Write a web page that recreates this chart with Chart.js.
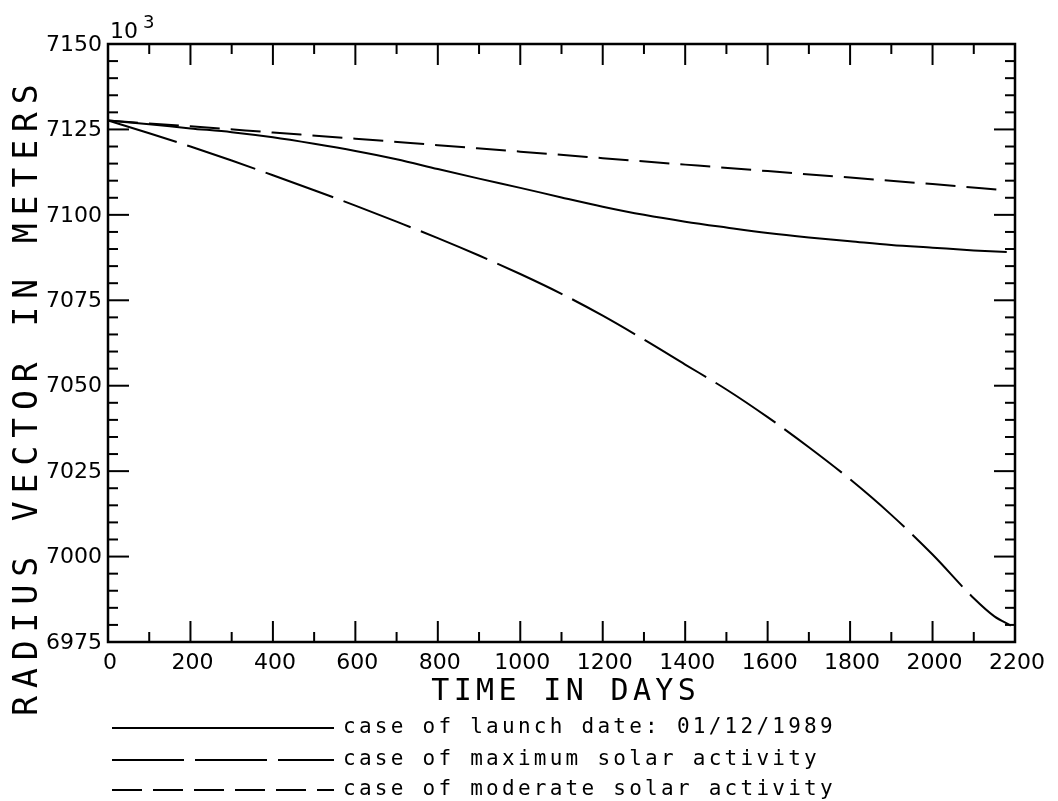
<!DOCTYPE html>
<html>
<head>
<meta charset="utf-8">
<script src="https://cdn.jsdelivr.net/npm/chart.js@4/dist/chart.umd.min.js"></script>
<style>
  body { margin: 0; background: #fff; }
  canvas { display: block; }
</style>
</head>
<body>
<canvas id="myChart" width="1058" height="801"></canvas>
<script>
// values (radius in km, i.e. x 10^3 m)
const launchDays = [0, 100, 200, 300, 400, 500, 600, 700, 800, 900, 1000, 1100, 1200, 1300, 1400, 1500, 1600, 1700, 1800, 1900, 2000, 2100, 2180];
const launchRadius = [7127.6, 7126.5, 7125.3, 7124.2, 7122.7, 7120.8, 7118.7, 7116.3, 7113.4, 7110.6, 7107.9, 7105.1, 7102.4, 7100.0, 7098.0, 7096.3, 7094.7, 7093.4, 7092.3, 7091.2, 7090.4, 7089.6, 7089.1];

const maxDays = [0, 100, 200, 300, 400, 500, 600, 700, 800, 900, 1000, 1100, 1200, 1300, 1400, 1500, 1600, 1700, 1800, 1900, 2000, 2100, 2150, 2190];
const maxRadius = [7127.6, 7123.9, 7120.0, 7115.9, 7111.6, 7107.2, 7102.7, 7098.0, 7093.2, 7088.1, 7082.7, 7076.9, 7070.5, 7063.5, 7056.2, 7048.9, 7040.8, 7032.0, 7022.6, 7012.2, 7000.6, 6987.8, 6982.5, 6979.8];

const modDays = [0, 200, 400, 600, 800, 1000, 1200, 1400, 1600, 1800, 2000, 2180];
const modRadius = [7127.6, 7125.9, 7124.1, 7122.3, 7120.4, 7118.5, 7116.6, 7114.7, 7112.8, 7110.9, 7109.0, 7107.2];

const seriesLabels = ['case of launch date: 01/12/1989', 'case of maximum solar activity', 'case of moderate solar activity'];

const xTickLabels = ['0', '200', '400', '600', '800', '1000', '1200', '1400', '1600', '1800', '2000', '2200'];
const yTickLabels = ['6975', '7000', '7025', '7050', '7075', '7100', '7125', '7150'];

const xTitle = 'TIME IN DAYS';
const yTitle = 'RADIUS VECTOR IN METERS';

let toPoints = (xs, ys) => xs.map((x, i) => ({ x: x, y: ys[i] }));

// draw text one char at a time with a fixed pitch (plotter look)
function spaced(c, text, x, y, pitch) {
  for (let i = 0; i < text.length; i++) {
    c.fillText(text[i], x + i * pitch, y);
  }
}

const plotterAxes = {
  id: 'plotterAxes',
  afterDraw(chart) {
    const c = chart.ctx;
    const a = chart.chartArea;
    const xs = chart.scales.x;
    const ys = chart.scales.y;
    let seg = (x1, y1, x2, y2) => {
      c.beginPath();
      c.moveTo(x1, y1);
      c.lineTo(x2, y2);
      c.stroke();
    };
    c.save();
    c.strokeStyle = '#000';
    c.fillStyle = '#000';
    c.setLineDash([]);

    // frame
    c.lineWidth = 2.5;
    c.strokeRect(a.left, a.top, a.right - a.left, a.bottom - a.top);

    // inward ticks, all four sides
    c.lineWidth = 2;
    for (let d = xs.min; d <= xs.max; d += 100) {
      const px = xs.getPixelForValue(d);
      const len = d % 200 === 0 ? 21 : 10;
      seg(px, a.bottom, px, a.bottom - len);
      seg(px, a.top, px, a.top + len);
    }
    for (let v = ys.min; v <= ys.max; v += 5) {
      const py = ys.getPixelForValue(v);
      const len = (v - ys.min) % 25 === 0 ? 21 : 10;
      seg(a.left, py, a.left + len, py);
      seg(a.right, py, a.right - len, py);
    }

    // tick labels
    c.font = '22px "DejaVu Sans"';
    c.textBaseline = 'middle';
    c.textAlign = 'right';
    yTickLabels.forEach(t => {
      c.fillText(t, a.left - 6, ys.getPixelForValue(Number(t)) + 1);
    });
    c.textAlign = 'center';
    xTickLabels.forEach(t => {
      c.fillText(t, xs.getPixelForValue(Number(t)) + 2, a.bottom + 21);
    });

    // x 10^3 multiplier
    c.textBaseline = 'alphabetic';
    c.textAlign = 'left';
    c.fillText('10', a.left + 2, 38);
    c.font = '18px "DejaVu Sans"';
    c.fillText('3', a.left + 35, 28);

    // axis titles
    c.font = '30px "DejaVu Sans Mono"';
    const xPitch = 22.4;
    const xw = (xTitle.length - 1) * xPitch + 18;
    spaced(c, xTitle, (a.left + a.right) / 2 + 2 - xw / 2, 700, xPitch);

    c.save();
    c.translate(37, 400);
    c.rotate(-Math.PI / 2);
    c.font = '33px "DejaVu Sans Mono"';
    const yPitch = 27.8;
    const yw = (yTitle.length - 1) * yPitch + 20;
    spaced(c, yTitle, -yw / 2, 0, yPitch);
    c.restore();

    // legend under the plot
    const legendY = [728, 760, 790];
    chart.data.datasets.forEach((ds, i) => {
      c.lineWidth = 2;
      c.setLineDash(ds.borderDash || []);
      seg(112, legendY[i], 334, legendY[i]);
      c.setLineDash([]);
      c.font = '21px "DejaVu Sans Mono"';
      spaced(c, ds.label, 343, legendY[i] + 5, 15.9);
    });
    c.restore();
  }
};

new Chart(document.getElementById('myChart').getContext('2d'), {
  type: 'line',
  data: {
    datasets: [
      {
        label: seriesLabels[0],
        data: toPoints(launchDays, launchRadius),
        borderColor: '#000',
        borderWidth: 2,
        pointRadius: 0,
        cubicInterpolationMode: 'monotone'
      },
      {
        label: seriesLabels[1],
        data: toPoints(maxDays, maxRadius),
        borderColor: '#000',
        borderWidth: 2,
        borderDash: [72, 11],
        pointRadius: 0,
        cubicInterpolationMode: 'monotone'
      },
      {
        label: seriesLabels[2],
        data: toPoints(modDays, modRadius),
        borderColor: '#000',
        borderWidth: 2,
        borderDash: [30, 11],
        pointRadius: 0,
        cubicInterpolationMode: 'monotone'
      }
    ]
  },
  options: {
    responsive: false,
    animation: false,
    devicePixelRatio: 1,
    layout: { padding: { left: 108, top: 44, right: 43, bottom: 159 } },
    plugins: {
      legend: { display: false },
      tooltip: { enabled: false }
    },
    scales: {
      x: { type: 'linear', min: 0, max: 2200, display: false },
      y: { type: 'linear', min: 6975, max: 7150, display: false }
    }
  },
  plugins: [plotterAxes]
});
</script>
</body>
</html>
